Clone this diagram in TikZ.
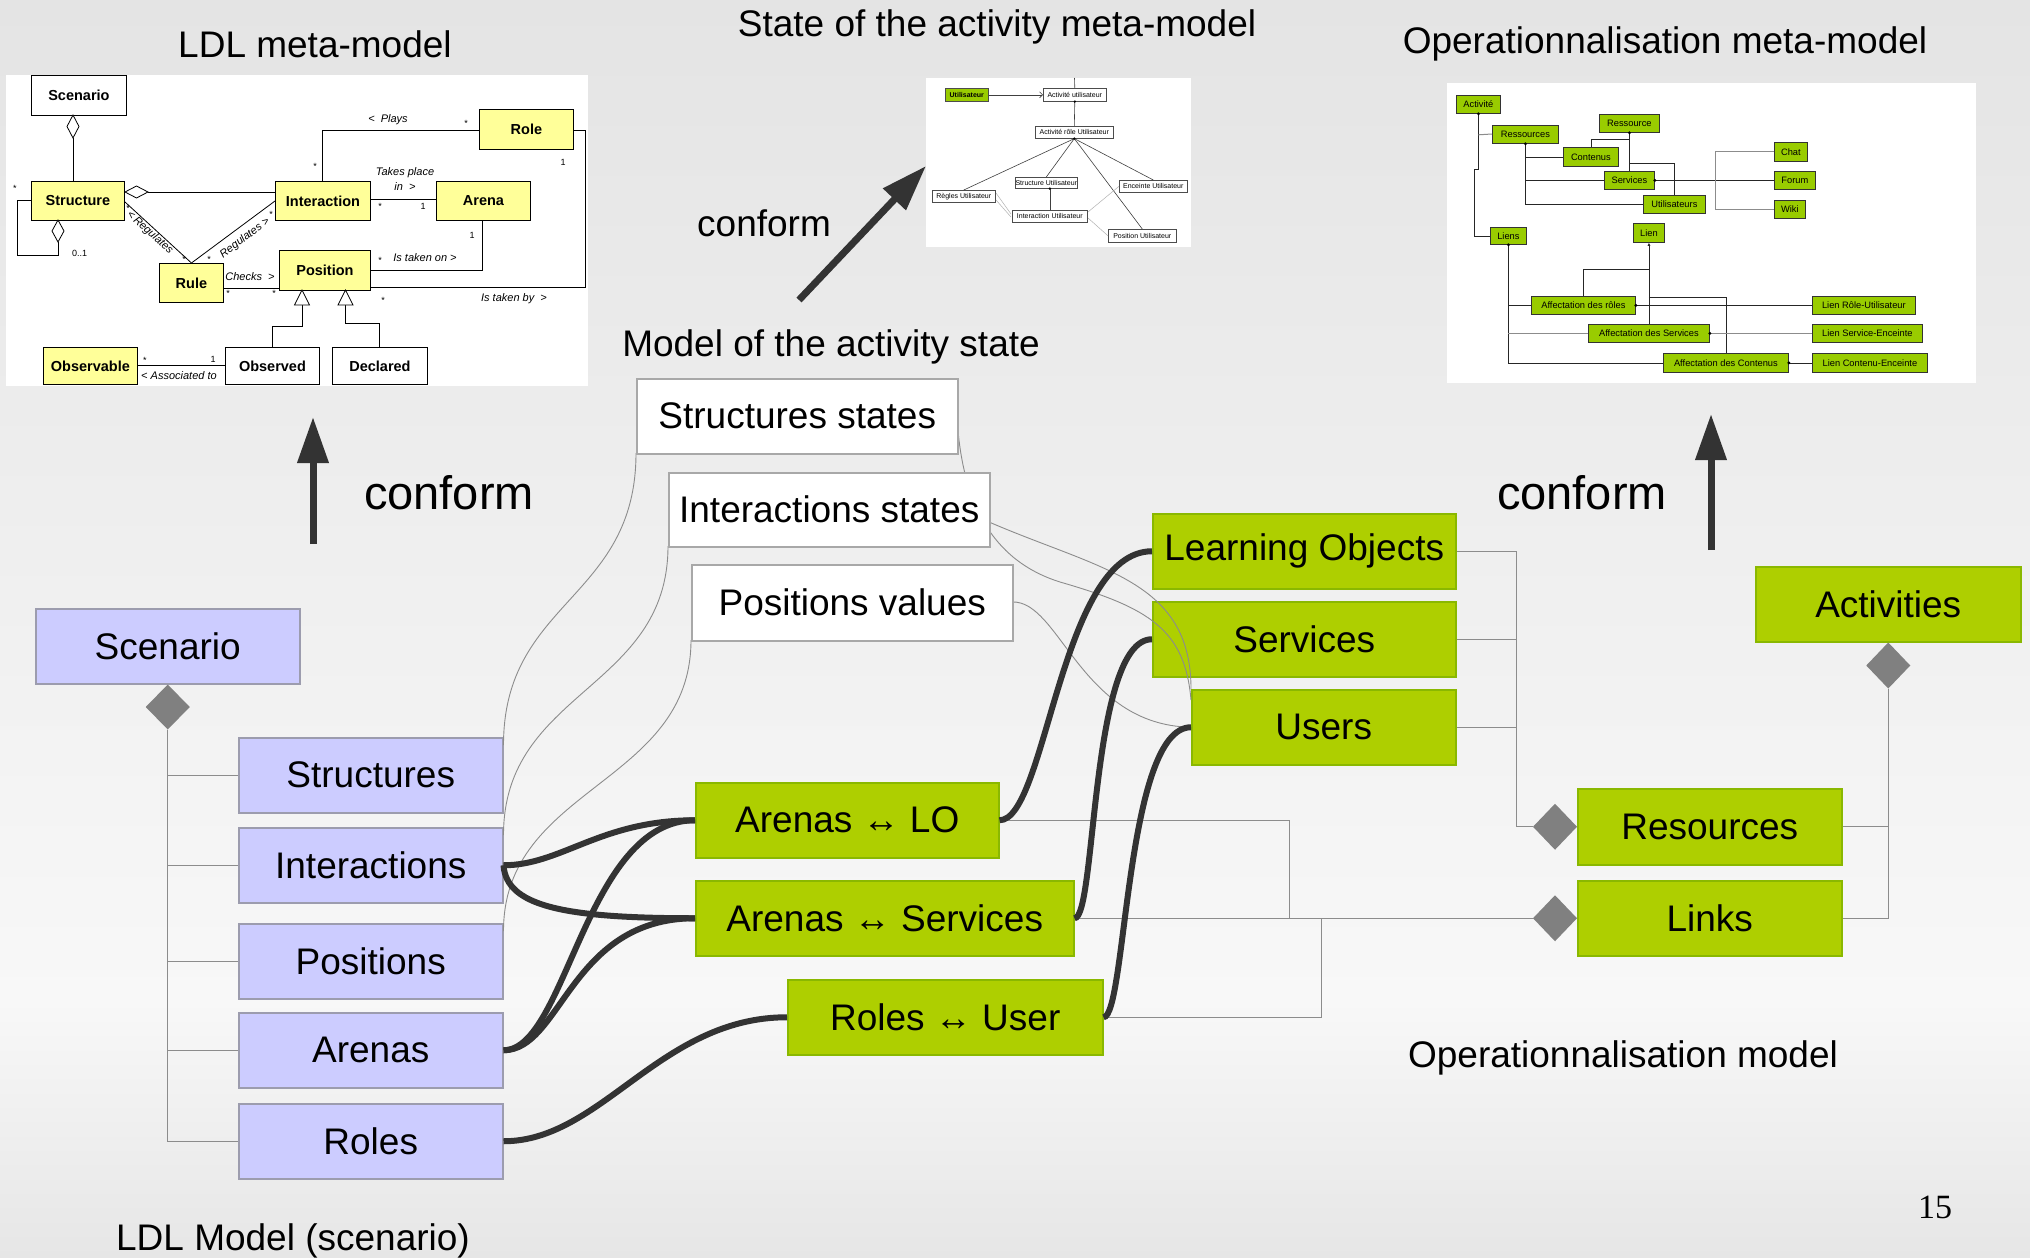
\documentclass[tikz,border=0pt]{standalone}
\usepackage{fontspec}
\setmainfont{Liberation Sans}
\newfontfamily\pnfont{Liberation Serif}
\usetikzlibrary{arrows.meta,calc}
\definecolor{bgA}{HTML}{E4E4E4}
\definecolor{bgB}{HTML}{F8F8F8}
\definecolor{bgC}{HTML}{E6E6E6}
\definecolor{blueF}{HTML}{CCCCFF}
\definecolor{blueD}{HTML}{9C9CAE}
\definecolor{greenF}{HTML}{AECF00}
\definecolor{greenD}{HTML}{8AB800}
\definecolor{stateD}{HTML}{A8A8A8}
\definecolor{treeL}{HTML}{8C8C8C}
\definecolor{diaF}{HTML}{808080}
\definecolor{thickC}{HTML}{333333}
\definecolor{ldlY}{HTML}{FFFF99}
\definecolor{opG}{HTML}{99CC00}
\newcommand{\mkbox}[7]{\node[#1,anchor=north west,minimum width={#5-#3},minimum height={#6-#4}] (#2) at (#3,#4) {#7};}
\tikzset{
 bigtxt/.style={font=\fontsize{37}{44}\selectfont},
 bluebox/.style={draw=blueD, fill=blueF, line width=1.5pt, inner sep=0pt, bigtxt},
 greenbox/.style={draw=greenD, fill=greenF, line width=1.5pt, inner sep=0pt, bigtxt},
 statebox/.style={draw=stateD, fill=white, line width=1.5pt, inner sep=0pt, bigtxt},
 titletxt/.style={bigtxt, inner sep=0pt},
 conftxt/.style={font=\fontsize{47}{56}\selectfont, inner sep=0pt},
 treeline/.style={draw=treeL, line width=1.3pt},
 thinline/.style={draw=treeL, line width=0.9pt},
 thickconn/.style={draw=thickC, line width=6pt},
 bigarrow/.style={draw=thickC, line width=7pt, -{Triangle[length=46pt,width=30pt]}},
 ldlbox/.style={draw=black, line width=0.9pt, fill=ldlY, inner sep=0pt, font=\bfseries\fontsize{14.5}{16}\selectfont},
 ldlwbox/.style={ldlbox, fill=white},
 ldlline/.style={draw=black, line width=0.8pt},
 lbl/.style={font=\itshape\fontsize{11}{12}\selectfont, inner sep=0pt},
 mult/.style={font=\fontsize{9}{10}\selectfont, inner sep=0pt},
 smbox/.style={draw=black!70, line width=0.6pt, fill=white, inner sep=0pt, font=\fontsize{7}{8}\selectfont},
 opbox/.style={draw=black!80, line width=0.8pt, fill=opG, inner sep=0pt, font=\fontsize{9.3}{10}\selectfont},
 sml/.style={draw=black!75, line width=0.6pt},
 smlight/.style={draw=black!30, line width=0.5pt},
 opl/.style={draw=black!85, line width=0.8pt},
 opgray/.style={draw=black!45, line width=1pt},
}
\begin{document}
\begin{tikzpicture}[x=1pt,y=-1pt]
\useasboundingbox (0,0) rectangle (2030,1258);
\shade[top color=bgA,bottom color=bgB] (0,0) rectangle (2030,1001);
\shade[top color=bgB,bottom color=bgC] (0,1000) rectangle (2030,1258);

% ================= LDL meta-model inset =================
\fill[white] (6,75) rectangle (588,386);
\mkbox{ldlwbox}{lScen}{31}{75}{126}{115}{Scenario}
\mkbox{ldlbox}{lStruct}{31}{181}{124}{220}{Structure}
\mkbox{ldlbox}{lInter}{275}{181}{370}{220}{Interaction}
\mkbox{ldlbox}{lArena}{436}{181}{530}{220}{Arena}
\mkbox{ldlbox}{lRole}{479}{109}{573}{149}{Role}
\mkbox{ldlbox}{lPos}{279}{250}{370}{290}{Position}
\mkbox{ldlbox}{lRule}{159}{263}{223}{302}{Rule}
\mkbox{ldlbox}{lObsv}{43}{347}{137}{384}{Observable}
\mkbox{ldlwbox}{lObsd}{225}{347}{319}{384}{Observed}
\mkbox{ldlwbox}{lDecl}{332}{347}{427}{384}{Declared}
% Scenario - Structure
\draw[ldlline] (73,138) -- (73,181);
\draw[ldlline,fill=white] (73,115) -- (79,126.5) -- (73,138) -- (67,126.5) -- cycle;
% Structure self loop
\draw[ldlline] (31,200.5) -- (17,200.5) -- (17,255) -- (58,255) -- (58,242);
\draw[ldlline,fill=white] (58,220) -- (64,231) -- (58,242) -- (52,231) -- cycle;
\node[mult] at (15,188) {*};
\node[mult,anchor=west] at (72,253) {0..1};
% Structure - Interaction
\draw[ldlline] (148,192) -- (275,192);
\draw[ldlline,fill=white] (125,192) -- (136.5,186) -- (148,192) -- (136.5,198) -- cycle;
% Regulates
\draw[ldlline] (125,202) -- (lRule.north);
\draw[ldlline] (275,201) -- (lRule.north);
\node[lbl,rotate=-42] at (150,233) {<\,Regulates};
\node[lbl,rotate=37] at (245,238) {Regulates >};
\node[mult] at (128,208) {*};
\node[mult] at (184,259) {*};
\node[mult] at (209,259) {*};
\node[mult] at (271,214) {*};
% Checks
\draw[ldlline] (223,288) -- (279,288);
\node[lbl] at (250,277) {Checks\ \ >};
\node[mult] at (228,293) {*};
\node[mult] at (274,293) {*};
% generalisations
\draw[ldlline] (302,305) -- (302,326) -- (272,326) -- (272,347);
\draw[ldlline] (345.5,305) -- (345.5,323) -- (379,323) -- (379,347);
\draw[ldlline,fill=white] (302,290) -- (309.5,305) -- (294.5,305) -- cycle;
\draw[ldlline,fill=white] (345.5,290) -- (353,305) -- (338,305) -- cycle;
% Plays
\draw[ldlline] (322,181) -- (322,130) -- (479,130);
\node[lbl] at (388,120) {<\ \ Plays};
\node[mult] at (466,123) {*};
\node[mult] at (315,166) {*};
% Takes place in
\draw[ldlline] (370,199) -- (436,199);
\node[lbl] at (405,173) {Takes place};
\node[lbl] at (405,187) {in\ \ >};
\node[mult] at (380,206) {*};
\node[mult] at (423,206) {1};
% Is taken on
\draw[ldlline] (482,220) -- (482,270) -- (370,270);
\node[mult] at (380,260) {*};
\node[lbl] at (425,258) {Is taken on >};
\node[mult] at (472,235) {1};
% Is taken by
\draw[ldlline] (573,130) -- (585,130) -- (585,287) -- (370,287);
\node[lbl] at (514,299) {Is taken by\ \ >};
\node[mult] at (563,162) {1};
\node[mult] at (383,300) {*};
% Associated to
\draw[ldlline] (137,365) -- (225,365);
\node[mult] at (145,360) {*};
\node[mult] at (213,359) {1};
\node[lbl] at (179,376) {<\ Associated to};

% ================= State meta-model inset =================
\fill[white] (926,78) rectangle (1191,247);
\mkbox{smbox,fill=opG,font=\bfseries\fontsize{7}{8}\selectfont}{sUtil}{945}{88}{988}{101}{Utilisateur}
\mkbox{smbox}{sAu}{1043}{88}{1106}{101}{Activité utilisateur}
\mkbox{smbox}{sAru}{1035}{126}{1113}{138}{Activité rôle Utilisateur}
\mkbox{smbox}{sReg}{932}{190}{995}{202}{Règles Utilisateur}
\mkbox{smbox}{sStr}{1015}{177}{1077}{188}{Structure Utilisateur}
\mkbox{smbox}{sEnc}{1119}{180}{1187}{192}{Enceinte Utilisateur}
\mkbox{smbox}{sInt}{1012}{210}{1087}{222}{Interaction Utilisateur}
\mkbox{smbox}{sPos}{1108}{229}{1176}{242}{Position Utilisateur}
\draw[sml] (1074.5,78) -- (sAu.north);
\draw[sml,-{Straight Barb[length=3pt,width=6pt]}] (sUtil.east) -- (sAu.west);
\draw[sml] (sAru.north) -- (sAu.south);
\fill (sAu.south) circle[radius=1.3pt];
\draw[sml] (sAru.south) -- (sReg.north);
\draw[sml] (sAru.south) -- (sStr.north);
\draw[sml] (sAru.south) -- (sEnc.north);
\draw[sml] (sAru.south) -- (sPos.north);
\fill (sAru.south) circle[radius=1.3pt];
\draw[sml] (sInt.north) -- (sInt.north |- sStr.south);
\fill (sInt.north |- sStr.south) circle[radius=1.3pt];
\draw[smlight] (996,193) -- (1011,214);
\draw[smlight] (996,200) -- (1011,217);
\draw[smlight] (1088,212) -- (sEnc.west);
\draw[smlight] (1088,218) -- (sPos.west);

% ================= Operationnalisation meta-model inset =================
\fill[white] (1447,83) rectangle (1976,383);
\mkbox{opbox}{oAct}{1456}{95}{1500}{113}{Activité}
\mkbox{opbox}{oRess}{1492}{125}{1558}{143}{Ressources}
\mkbox{opbox}{oRes1}{1599}{114}{1659}{132}{Ressource}
\mkbox{opbox}{oCont}{1563}{147}{1618}{166}{Contenus}
\mkbox{opbox}{oServ}{1604}{171}{1654}{189}{Services}
\mkbox{opbox}{oUtil}{1643}{195}{1705}{213}{Utilisateurs}
\mkbox{opbox}{oChat}{1774}{142}{1807}{161}{Chat}
\mkbox{opbox}{oForum}{1774}{171}{1815}{189}{Forum}
\mkbox{opbox}{oWiki}{1774}{200}{1805}{218}{Wiki}
\mkbox{opbox}{oLiens}{1490}{227}{1526}{244}{Liens}
\mkbox{opbox}{oLien}{1633}{223}{1664}{242}{Lien}
\mkbox{opbox}{oAfr}{1531}{296}{1635}{314}{Affectation des rôles}
\mkbox{opbox}{oAfs}{1588}{324}{1709}{342}{Affectation des Services}
\mkbox{opbox}{oAfc}{1663}{353}{1788}{372}{Affectation des Contenus}
\mkbox{opbox}{oLru}{1812}{296}{1915}{314}{Lien Rôle-Utilisateur}
\mkbox{opbox}{oLse}{1812}{324}{1922}{342}{Lien Service-Enceinte}
\mkbox{opbox}{oLce}{1812}{353}{1927}{372}{Lien Contenu-Enceinte}
\draw[opl] (oAct.south) -- ++(0,56) -- ++(-4,0) |- (oLiens.west);
\draw[opgray] ($(oAct.south)+(0,21)$) -- (oRess.west |- 0,134);
\draw[opl] (oRess.south) |- (oUtil.west);
\draw[opl] (oRess.south |- oCont.west) -- (oCont.west);
\draw[opl] (oRess.south |- oServ.west) -- (oServ.west);
\fill (oRess.south) circle[radius=1.6pt];
\fill (oAct.south) circle[radius=1.6pt];
\draw[opl] (oRes1.south) -- (oServ.north);
\draw[opl] (oRes1.south) -- ++(0,7) -| (oCont.north);
\draw[opl] ($(oRes1.south)+(0,31)$) -| (oUtil.north);
\fill (oRes1.south) circle[radius=1.6pt];
\draw[opl] (oServ.east) -- (oForum.west);
\fill (oServ.east) circle[radius=1.6pt];
\draw[opgray] (oChat.west) -- ++(-59,0) |- (oWiki.west);
\draw[opl] (oLiens.south) |- (oAfc.west);
\draw[opl] (oLiens.south |- oAfr.west) -- (oAfr.west);
\draw[opgray,line width=1.3pt] (oLiens.south |- oAfs.west) -- (oAfs.west);
\fill (oLiens.south) circle[radius=1.6pt];
\draw[opl,-{Latex[length=3pt,width=3pt]}] (oLien.south |- oAfs.north) -- (oLien.south);
\draw[opl] ($(oLien.south)+(0,27)$) -| (oAfr.north);
\draw[opl] ($(oLien.south)+(0,55)$) -| (oAfc.north);
\draw[opl] (oAfr.east) -- (oLru.west);
\draw[opgray,line width=1.3pt] (oAfs.east) -- (oLse.west);
\draw[opl] (oAfc.east) -- (oLce.west);
\fill (oAfr.east) circle[radius=1.6pt];
\fill (oAfs.east) circle[radius=1.6pt];
\fill (oAfc.east) circle[radius=1.6pt];

% ================= Main diagram =================
% blue boxes
\mkbox{bluebox}{scen}{35}{608}{299}{683}{Scenario}
\mkbox{bluebox}{struct}{238}{737}{502}{812}{Structures}
\mkbox{bluebox}{inter}{238}{827}{502}{902}{Interactions}
\mkbox{bluebox}{posi}{238}{923}{502}{998}{Positions}
\mkbox{bluebox}{aren}{238}{1012}{502}{1087}{Arenas}
\mkbox{bluebox}{roles}{238}{1103}{502}{1178}{Roles}
\fill[diaF] (scen.south) -- ++(22,22.5) -- ++(-22,22.5) -- ++(-22,-22.5) -- cycle;
\coordinate (dS) at ($(scen.south)+(0,45)$);
\draw[treeline] (dS) |- (roles.west);
\draw[treeline] (dS |- struct.west) -- (struct.west);
\draw[treeline] (dS |- inter.west) -- (inter.west);
\draw[treeline] (dS |- posi.west) -- (posi.west);
\draw[treeline] (dS |- aren.west) -- (aren.west);

% green boxes
\mkbox{greenbox}{lo}{1152}{513}{1455}{588}{Learning Objects}
\mkbox{greenbox}{serv}{1152}{601}{1455}{676}{Services}
\mkbox{greenbox}{users}{1191}{689}{1455}{764}{Users}
\mkbox{greenbox}{acts}{1755}{566}{2020}{641}{Activities}
\mkbox{greenbox}{reso}{1577}{788}{1841}{864}{Resources}
\mkbox{greenbox}{links}{1577}{880}{1841}{955}{Links}
\mkbox{greenbox}{alo}{695}{782}{998}{857}{Arenas ↔ LO}
\mkbox{greenbox}{asv}{695}{880}{1073}{955}{Arenas ↔ Services}
\mkbox{greenbox}{ru}{787}{979}{1102}{1054}{Roles ↔ User}

\coordinate (dA) at ($(acts.south)+(0,46)$);
\coordinate (dR) at ($(reso.west)+(-44,0)$);
\coordinate (dL) at ($(links.west)+(-44,0)$);
\draw[treeline] (dA) |- (links.east);
\draw[treeline] (dA |- reso.east) -- (reso.east);
\draw[treeline] (lo.east) -- ++(60,0) |- (dR);
\draw[treeline] (serv.east) -- ++(60,0);
\draw[treeline] (users.east) -- ++(60,0);
\draw[treeline] (alo.east) -- ++(290,0) |- (dL);
\draw[treeline] (asv.east) -- (dL);
\draw[treeline] (ru.east) -| ($(asv.east)+(247,0)$);
\fill[diaF] (acts.south) -- ++(22,23) -- ++(-22,23) -- ++(-22,-23) -- cycle;
\fill[diaF] (reso.west) -- ++(-22,-23) -- ++(-22,23) -- ++(22,23) -- cycle;
\fill[diaF] (links.west) -- ++(-22,-23) -- ++(-22,23) -- ++(22,23) -- cycle;

% state boxes and thin links
\coordinate (sstS) at (636,453);
\draw[thinline] ($(struct.north east)+(0,8)$) .. controls +(0,-145) and +(0,147) .. (sstS);
\draw[thinline] ($(inter.north east)+(0,8)$) .. controls +(0,-145) and +(0,144) .. (668,546);
\draw[thinline] ($(posi.north east)+(0,8)$) .. controls +(0,-145) and +(0,145) .. (691,640);
\draw[thinline] (957,418) .. controls (962,500) and (990,560) .. (1060,582) .. controls (1150,608) and (1185,630) .. ($(users.north west)+(0,11)$);
\draw[thinline] (989,522) .. controls (1100,570) and (1191,580) .. (users.north west);
\draw[thinline] (1012,602) .. controls (1060,600) and (1080,725) .. (users.west);
\mkbox{statebox}{sst}{636}{378}{957}{453}{Structures states}
\mkbox{statebox}{ist}{668}{472}{989}{546}{Interactions states}
\mkbox{statebox}{pva}{691}{564}{1012}{640}{Positions values}

% thick connectors
\draw[thickconn] (inter.east) .. controls +(58,0) and +(-95,0) .. (alo.west);
\draw[thickconn] (inter.east) .. controls +(3,40) and +(-135,0) .. (asv.west);
\draw[thickconn] (aren.east) .. controls +(63,0) and +(-110,0) .. (alo.west);
\draw[thickconn] (aren.east) .. controls +(58,0) and +(-125,0) .. (asv.west);
\draw[thickconn] (roles.east) .. controls +(98,0) and +(-127,0) .. (ru.west);
\draw[thickconn] (alo.east) .. controls +(47,0) and +(-92,0) .. (lo.west);
\draw[thickconn] (asv.east) .. controls +(22,0) and +(-62,0) .. (serv.west);
\draw[thickconn] (ru.east) .. controls +(23,0) and +(-66,0) .. (users.west);

% conform arrows
\coordinate (aL0) at (313,544); \coordinate (aL1) at (313,417);
\coordinate (aM0) at (799,300); \coordinate (aM1) at (926,166);
\coordinate (aR0) at (1711,550); \coordinate (aR1) at (1711,414);
\draw[bigarrow] (aL0) -- (aL1);
\draw[bigarrow] (aM0) -- (aM1);
\draw[bigarrow] (aR0) -- (aR1);

% titles
\node[titletxt] (t1) at (315,44) {LDL meta-model};
\node[titletxt] (t2) at (997,27) {State of the activity meta-model};
\node[titletxt] (t3) at (1665,44) {Operationnalisation meta-model};
\node[titletxt] (t4) at (764,223) {conform};
\node[titletxt] (t5) at (831,347) {Model of the activity state};
\node[conftxt] (t6) at (449,493) {conform};
\node[conftxt] (t7) at (1582,493) {conform};
\node[titletxt] (t8) at (1623,1058) {Operationnalisation model};
\node[titletxt] (t9) at (293,1241) {LDL Model (scenario)};
\node[font=\pnfont\fontsize{34}{40}\selectfont, inner sep=0pt] (pn) at (1935,1207) {15};
\end{tikzpicture}
\end{document}
